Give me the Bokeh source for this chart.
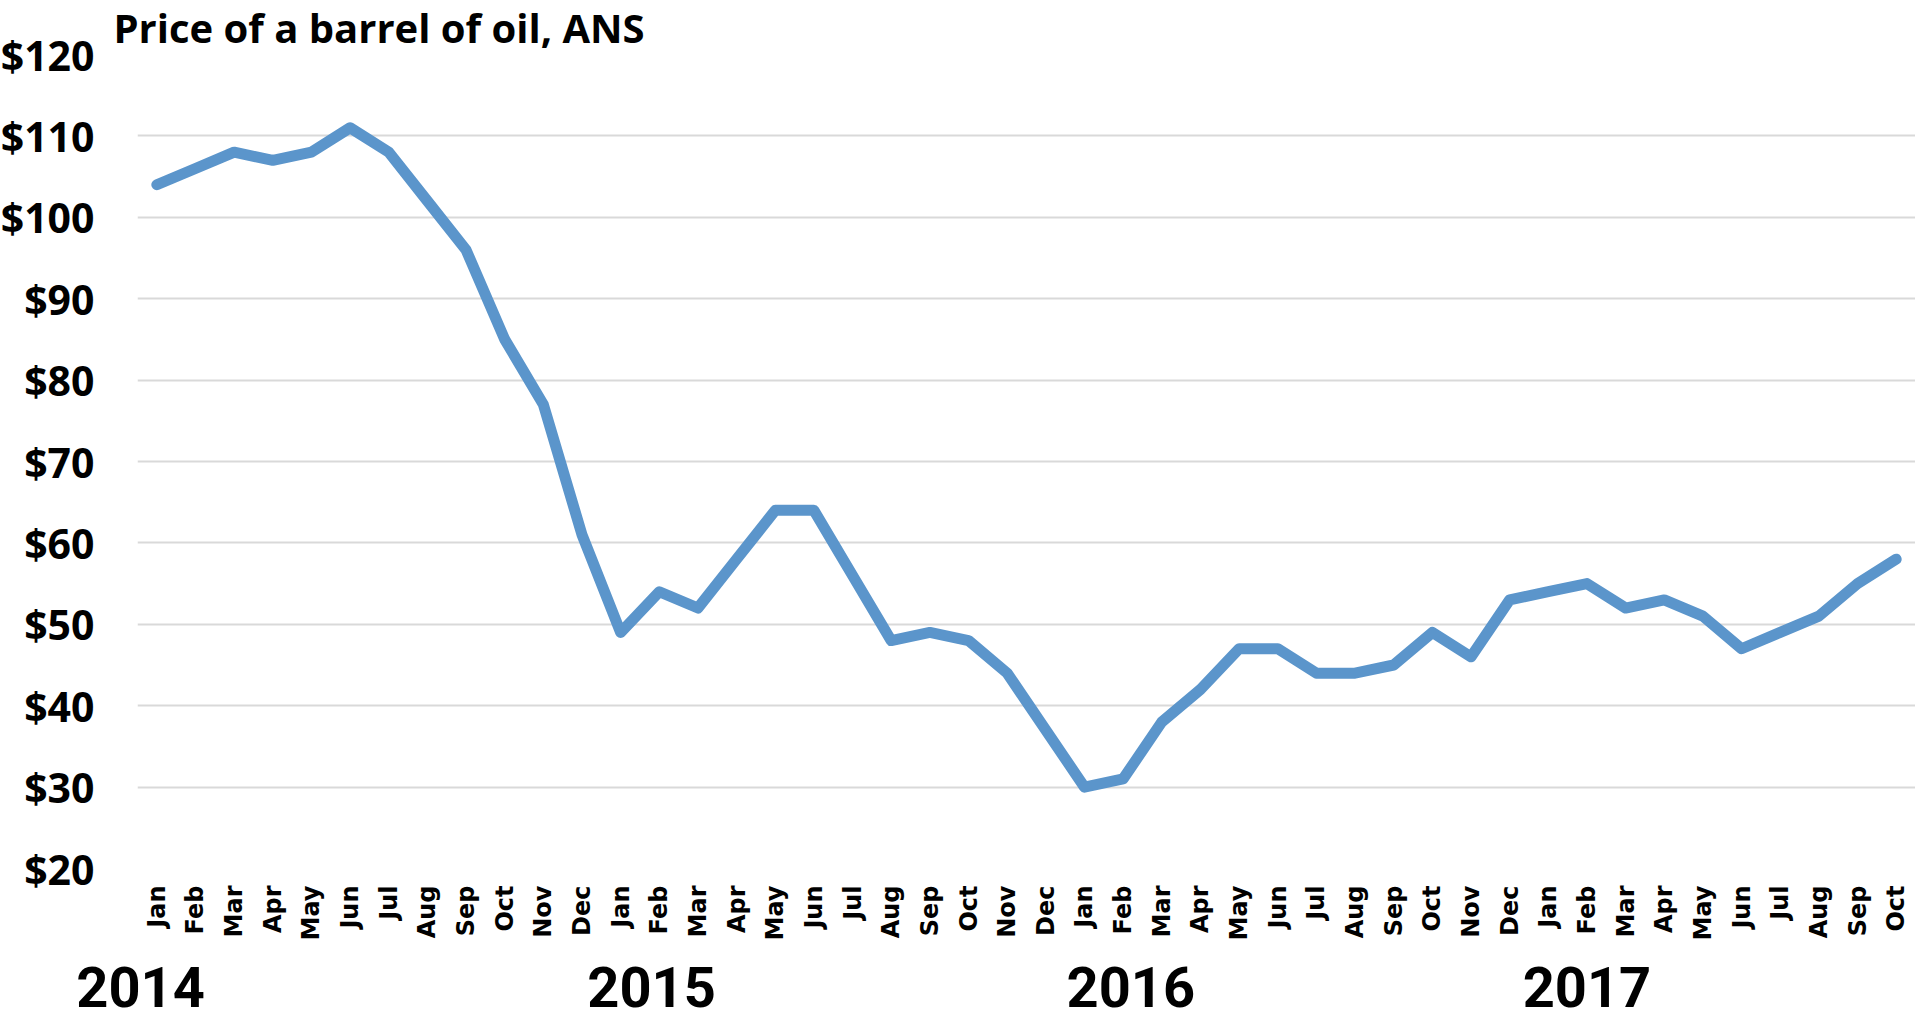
import math
from bokeh.plotting import figure
from bokeh.models import FixedTicker, NumeralTickFormatter, Range1d, LinearAxis
from bokeh.embed import file_html
from bokeh.resources import INLINE

# ---- data ----
months = ["Jan", "Feb", "Mar", "Apr", "May", "Jun", "Jul", "Aug", "Sep", "Oct", "Nov", "Dec",
          "Jan", "Feb", "Mar", "Apr", "May", "Jun", "Jul", "Aug", "Sep", "Oct", "Nov", "Dec",
          "Jan", "Feb", "Mar", "Apr", "May", "Jun", "Jul", "Aug", "Sep", "Oct", "Nov", "Dec",
          "Jan", "Feb", "Mar", "Apr", "May", "Jun", "Jul", "Aug", "Sep", "Oct"]
price = [104, 106, 108, 107, 108, 111, 108, 102, 96, 85, 77, 61,
         49, 54, 52, 58, 64, 64, 56, 48, 49, 48, 44, 37,
         30, 31, 38, 42, 47, 47, 44, 44, 45, 49, 46, 53,
         54, 55, 52, 53, 51, 47, 49, 51, 55, 58]
years = ["2014", "2015", "2016", "2017"]
year_pos = [-0.42, 12.8, 25.2, 37.0]   # label anchor (month index)
y_ticks = [20, 30, 40, 50, 60, 70, 80, 90, 100, 110, 120]
title_text = "Price of a barrel of oil, ANS"

W = 1918
H = 1028
n = len(months)
x = list(range(n))

p = figure(width=W, height=H, output_backend="svg", toolbar_location=None,
           x_range=Range1d(-0.5, n - 0.5), y_range=Range1d(20, 120), title=title_text,
           min_border_left=138, min_border_right=0, min_border_top=54, min_border_bottom=157)
p.margin = (-3, 0, -20, -3)
p.outline_line_color = None
p.background_fill_color = "white"
p.border_fill_color = "white"

p.title.text_font = "Open Sans"
p.title.text_font_style = "bold"
p.title.text_font_size = "40px"
p.title.text_color = "black"
p.title.align = "left"
p.title.offset = -24
p.title.standoff = 0

p.line(x, price, line_width=11, line_color="#5B95CB", line_join="round", line_cap="round")

# y axis
p.yaxis.ticker = FixedTicker(ticks=y_ticks)
p.yaxis.formatter = NumeralTickFormatter(format="$0")
p.yaxis.axis_line_color = None
p.yaxis.major_tick_line_color = None
p.yaxis.minor_tick_line_color = None
p.yaxis.major_tick_out = 0
p.yaxis.major_label_standoff = 43
p.yaxis.major_label_text_font = "Open Sans"
p.yaxis.major_label_text_font_style = "bold"
p.yaxis.major_label_text_font_size = "41px"
p.yaxis.major_label_text_color = "black"

# month axis
p.xaxis.ticker = FixedTicker(ticks=x)
p.xaxis.major_label_overrides = {i: m for i, m in enumerate(months)}
p.xaxis.major_label_orientation = math.pi / 2
p.xaxis.axis_line_color = None
p.xaxis.major_tick_line_color = None
p.xaxis.minor_tick_line_color = None
p.xaxis.major_tick_out = 0
p.xaxis.major_label_standoff = 17
p.xaxis.major_label_text_font = "DejaVu Sans"
p.xaxis.major_label_text_font_style = "bold"
p.xaxis.major_label_text_font_size = "24px"
p.xaxis.major_label_text_color = "black"

# year axis
yax = LinearAxis(ticker=FixedTicker(ticks=year_pos),
                 major_label_overrides={pos: yr for pos, yr in zip(year_pos, years)})
yax.axis_line_color = None
yax.major_tick_line_color = None
yax.minor_tick_line_color = None
yax.major_tick_out = 0
yax.major_tick_in = 0
yax.major_label_standoff = 23
yax.major_label_text_font = "Roboto"
yax.major_label_text_font_style = "bold"
yax.major_label_text_font_size = "56px"
yax.major_label_text_color = "black"
p.add_layout(yax, "below")

# grid
p.xgrid.grid_line_color = None
p.ygrid.grid_line_color = "#D9D9D9"
p.ygrid.grid_line_width = 2

open("out.html", "w").write(file_html(p, INLINE))
